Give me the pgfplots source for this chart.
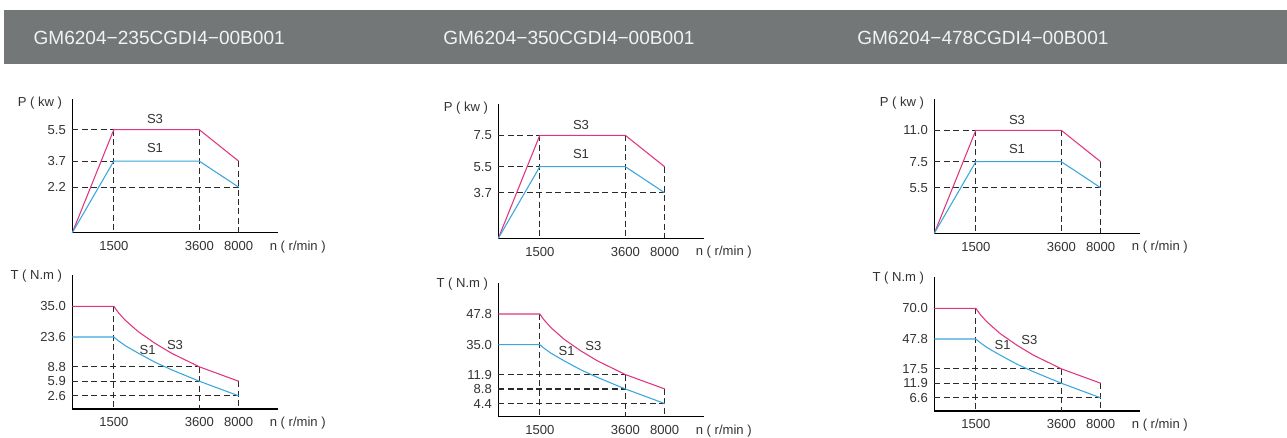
\documentclass[border=0pt]{standalone}
\usepackage{pgfplots}
\pgfplotsset{compat=1.18}
\usepackage{fontspec}
\setmainfont{Liberation Sans}
\definecolor{band}{HTML}{737777}
\definecolor{sthree}{HTML}{E0357F}
\definecolor{sone}{HTML}{3AA6DE}
\definecolor{txt}{HTML}{333333}
\definecolor{dsh}{HTML}{2A2A2A}
\tikzset{lab/.style={font=\fontsize{9.8}{11}\selectfont, text=txt}}
\pgfplotsset{
  motor/.style={
    scale only axis, width=154.5pt, height=100.5pt,
    xmin=0, xmax=206, ymin=0, ymax=134,
    axis lines=left, axis line style={-, line width=0.9pt, black},
    major tick length=0pt,
    xtick={41.5,127,166.3}, xticklabels={1500,3600,8000},
    tick label style={font=\fontsize{9.8}{11}\selectfont, text=txt},
    xticklabel style={yshift=-3pt},
    yticklabel style={xshift=-1.3pt},
    /pgf/number format/assume math mode=true,
    clip=false, anchor=south west,
  },
  s3/.style={color=sthree, line width=0.8pt, mark=none},
  s1/.style={color=sone, line width=0.8pt, mark=none},
  guide/.style={color=dsh, line width=0.9pt, dash pattern=on 4.5pt off 2.6pt, mark=none},
}
% top panel: #1 x, #2 y, #3 high, #4 mid, #5 low
\newcommand{\toppanel}[5]{%
\begin{axis}[motor, at={(#1,-#2)}, ytick={45.6,71.6,103}, yticklabels={#5,#4,#3}]
\addplot[guide] coordinates {(0,103) (41.5,103)};
\addplot[guide] coordinates {(0,71.6) (41.5,71.6)};
\addplot[guide] coordinates {(0,45.6) (166.3,45.6)};
\addplot[guide] coordinates {(41.5,103) (41.5,0)};
\addplot[guide] coordinates {(127,103) (127,0)};
\addplot[guide] coordinates {(166.3,71.6) (166.3,0)};
\addplot[s3] coordinates {(0,0) (41.5,103) (127,103) (166.3,71.6)};
\addplot[s1] coordinates {(0,0) (41.5,71.6) (127,71.6) (166.3,45.6)};
\node[lab] at (axis cs:82.7,113.4) {S3};
\node[lab] at (axis cs:82.7,84.5) {S1};
\node[lab, anchor=east] at (axis cs:-5.5,130) {P ( kw )};
\node[lab] at (axis cs:225.5,-14) {n ( r/min )};
\end{axis}}
% bottom panel: #1 x, #2 y, #3..#7 labels, #8 S3 pos, #9 S1 pos
\newcommand{\botpanel}[9]{%
\begin{axis}[motor, at={(#1,-#2)}, ytick={13.2,27.8,42.2,72,102.7}, yticklabels={#7,#6,#5,#4,#3}]
\addplot[guide] coordinates {(0,42.2) (127,42.2)};
\addplot[guide] coordinates {(0,27.8) (127,27.8)};
\addplot[guide] coordinates {(0,13.2) (166.3,13.2)};
\addplot[guide] coordinates {(41.5,102.7) (41.5,0)};
\addplot[guide] coordinates {(127,42.2) (127,0)};
\addplot[guide] coordinates {(166.3,27.8) (166.3,0)};
\addplot[s3] coordinates {(0,102.7) (41.5,102.7) (46,96.5) (52.7,89) (66,77.3) (82.7,65.7) (99.4,55.7) (116,47.6) (127,42.2) (166.3,27.8)};
\addplot[s1] coordinates {(0,72) (41.5,72) (46,68.3) (52.7,63.5) (66,55.8) (82.7,46.8) (99.4,39.2) (116,32.3) (127,27.8) (166.3,13.2)};
\node[lab] at (axis cs:#8) {S3};
\node[lab] at (axis cs:#9) {S1};
\node[lab, anchor=east] at (axis cs:-5.5,133) {T ( N.m )};
\node[lab] at (axis cs:225.5,-14) {n ( r/min )};
\end{axis}}
\begin{document}
\begin{tikzpicture}[x=0.75pt,y=0.75pt]
\fill[white] (0,0) rectangle (1287,-437);
\path[use as bounding box] (0,0) rectangle (1287,-437);
\fill[band] (4,-10) rectangle (1287,-63.5);
\node[anchor=base west, text=white!95!black, font=\fontsize{14.3}{16}\selectfont, inner sep=0pt] at (33.3,-44.3) {GM6204−235CGDI4−00B001};
\node[anchor=base west, text=white!95!black, font=\fontsize{14.3}{16}\selectfont, inner sep=0pt] at (443,-44.3) {GM6204−350CGDI4−00B001};
\node[anchor=base west, text=white!95!black, font=\fontsize{14.3}{16}\selectfont, inner sep=0pt] at (857,-44.3) {GM6204−478CGDI4−00B001};
\toppanel{72.3}{232.7}{5.5}{3.7}{2.2}
\toppanel{498.3}{238.3}{7.5}{5.5}{3.7}
\toppanel{934.3}{233.3}{11.0}{7.5}{5.5}
\botpanel{72.3}{409}{35.0}{23.6}{8.8}{5.9}{2.6}{102.7,64}{75.4,59}
\botpanel{498.3}{416.7}{47.8}{35.0}{11.9}{8.8}{4.4}{95,71}{68.4,66}
\botpanel{934.3}{411}{70.0}{47.8}{17.5}{11.9}{6.6}{95,71}{68.4,66}
\end{tikzpicture}
\end{document}
